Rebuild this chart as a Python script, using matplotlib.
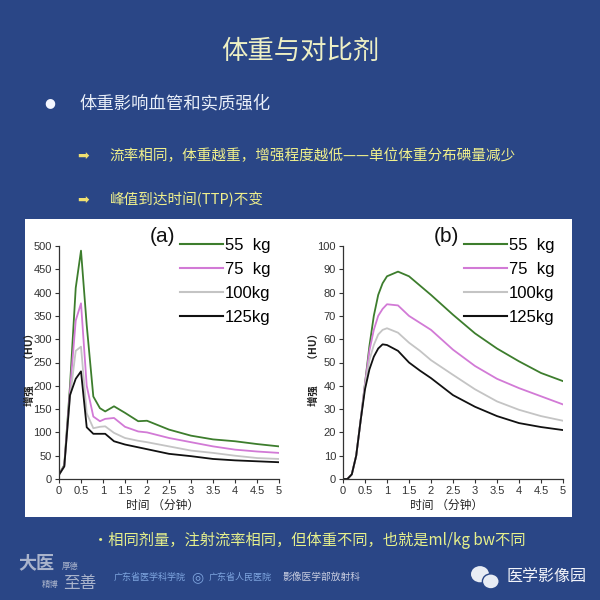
import matplotlib
matplotlib.use("Agg")
import matplotlib.pyplot as plt
from matplotlib.patches import Rectangle, Ellipse

plt.rcParams['font.family'] = ['Noto Sans CJK SC', 'DejaVu Sans']

# ---- data ----
labels = ["55  kg", "75  kg", "100kg", "125kg"]
colors = ["#3d7d2d", "#d27ad6", "#c4c4c4", "#111111"]

# (a) vessel enhancement
ta = [0, 0.12, 0.25, 0.38, 0.5, 0.63, 0.78, 0.93, 1.05, 1.25, 1.5, 1.8, 2.0, 2.5, 3.0, 3.5, 4.0, 4.5, 5.0]
a55 = [10, 30, 200, 410, 490, 330, 177, 152, 145, 156, 142, 124, 125, 106, 93, 85, 81, 75, 70]
a75 = [10, 28, 190, 340, 377, 200, 134, 124, 129, 131, 112, 102, 100, 88, 79, 70, 63, 59, 56]
a100 = [9, 26, 175, 275, 284, 141, 109, 112, 113, 99, 88, 82, 79, 70, 61, 56, 50, 45, 43]
a125 = [9, 27, 180, 215, 231, 111, 97, 97, 97, 81, 74, 68, 64, 54, 49, 43, 40, 38, 36]

# (b) parenchymal enhancement
tb = [0, 0.1, 0.2, 0.3, 0.4, 0.5, 0.6, 0.7, 0.8, 0.9, 1.0, 1.25, 1.5, 1.75, 2.0, 2.5, 3.0, 3.5, 4.0, 4.5, 5.0]
b55 = [0, 0, 2, 10, 25, 41, 57, 70, 79, 84, 87, 89, 87, 83, 79, 70.5, 62.5, 56, 50.5, 45.5, 42]
b75 = [0, 0, 2, 10, 25, 41, 55, 64, 70, 73, 75, 74.5, 70, 67, 64, 55.5, 48.5, 43, 39, 35.5, 32]
b100 = [0, 0, 2, 10, 25, 40, 51, 57.5, 62, 64, 64.7, 62.8, 58.5, 55, 51, 44.7, 38.5, 33.3, 29.7, 27, 25]
b125 = [0, 0, 2, 10, 25, 38.5, 47, 52.5, 56, 57.8, 57.5, 55, 50, 46.5, 43.3, 36, 31, 27, 24, 22.3, 21]

xticks = [0, 0.5, 1, 1.5, 2, 2.5, 3, 3.5, 4, 4.5, 5]

bg = "#2a4686"
fig = plt.figure(figsize=(6, 6), dpi=100, facecolor=bg)

# slide text
fig.text(0.5, 0.915, "体重与对比剂", ha="center", va="center", fontsize=19, color="#eef0c4")
fig.text(0.083, 0.829, "●", ha="center", va="center", fontsize=9, color="#f4f6ff",
         family=["DejaVu Sans"])
fig.text(0.133, 0.828, "体重影响血管和实质强化", ha="left", va="center", fontsize=12.5, color="#e8eef8")
fig.text(0.128, 0.74, "➡", ha="left", va="center", fontsize=10, color="#f0e070",
         family=["DejaVu Sans"])
fig.text(0.183, 0.74, "流率相同，体重越重，增强程度越低——单位体重分布碘量减少",
         ha="left", va="center", fontsize=10.5, color="#f0f08c")
fig.text(0.128, 0.667, "➡", ha="left", va="center", fontsize=10, color="#f0e070",
         family=["DejaVu Sans"])
fig.text(0.183, 0.667, "峰值到达时间(TTP)不变", ha="left", va="center", fontsize=10.5, color="#f0f08c")

# white panel behind the two charts
fig.patches.append(Rectangle((25 / 600, 83 / 600), 547 / 600, 298 / 600,
                             transform=fig.transFigure, facecolor="white",
                             edgecolor="none", zorder=-5))

tick_font = ["Liberation Sans Narrow", "Liberation Sans", "DejaVu Sans"]


def draw(ax, t, series, ymax, ystep, tag):
    ax.set_zorder(2)
    for y, c, lab in zip(series, colors, labels):
        ax.plot(t, y, color=c, lw=1.3, label=lab)
    ax.set_xlim(0, 5)
    ax.set_ylim(0, ymax)
    ax.set_xticks(xticks)
    ax.set_xticklabels([f"{v:g}" for v in xticks], family=tick_font, fontsize=8)
    yt = list(range(0, ymax + 1, ystep))
    ax.set_yticks(yt)
    ax.set_yticklabels([str(v) for v in yt], family=tick_font, fontsize=8)
    ax.tick_params(length=3, width=0.8, colors="#333333", pad=2)
    for s in ["top", "right"]:
        ax.spines[s].set_visible(False)
    for s in ["left", "bottom"]:
        ax.spines[s].set_color("#333333")
        ax.spines[s].set_linewidth(0.9)
    ax.set_facecolor("white")
    ax.text(0.47, 1.04, tag, transform=ax.transAxes, ha="center", va="center",
            fontsize=15, family=tick_font, color="#111111")
    ax.text(-0.135, 0.48, "增强　　（HU）", transform=ax.transAxes, rotation=90,
            ha="center", va="center", fontsize=7.5, color="#222222", fontweight="bold")
    ax.text(0.47, -0.115, "时间 （分钟）", transform=ax.transAxes,
            ha="center", va="center", fontsize=8.5, color="#222222")
    leg = ax.legend(loc="upper right", bbox_to_anchor=(1.03, 1.1), frameon=False,
                    handlelength=2.6, handletextpad=0.1, labelspacing=0.55,
                    prop={"family": tick_font, "size": 12})
    for line in leg.get_lines():
        line.set_linewidth(1.5)


ax1 = fig.add_axes([59 / 600, 121 / 600, 220 / 600, 233 / 600])
draw(ax1, ta, [a55, a75, a100, a125], 500, 50, "(a)")

ax2 = fig.add_axes([343 / 600, 121 / 600, 220 / 600, 233 / 600])
draw(ax2, tb, [b55, b75, b100, b125], 100, 10, "(b)")

# bottom note
fig.text(0.155, 0.1, "•相同剂量，注射流率相同，但体重不同，也就是ml/kg bw不同",
         ha="left", va="center", fontsize=11, color="#e6f08c")

# footer marks
fig.text(0.03, 0.062, "大医", ha="left", va="center", fontsize=13, color="#aab4cc",
         fontweight="bold")
fig.text(0.103, 0.056, "厚德", ha="left", va="center", fontsize=6, color="#aab4cc")
fig.text(0.07, 0.025, "精博", ha="left", va="center", fontsize=6, color="#aab4cc")
fig.text(0.105, 0.028, "至善", ha="left", va="center", fontsize=12, color="#aab4cc")
fig.text(0.19, 0.038, "广东省医学科学院", ha="left", va="center", fontsize=6.5, color="#7fa6e0")
fig.text(0.318, 0.038, "◎", ha="left", va="center", fontsize=10, color="#7fa6e0",
         family=["DejaVu Sans"])
fig.text(0.348, 0.038, "广东省人民医院", ha="left", va="center", fontsize=6.5, color="#7fa6e0")
fig.text(0.47, 0.038, "影像医学部放射科", ha="left", va="center", fontsize=7, color="#c8cde0")
fig.patches.append(Ellipse((0.8, 0.043), 0.03, 0.027, transform=fig.transFigure,
                           facecolor="#e8ecf4", edgecolor="none"))
fig.patches.append(Ellipse((0.818, 0.031), 0.028, 0.025, transform=fig.transFigure,
                           facecolor="#e8ecf4", edgecolor=bg, lw=1))
fig.text(0.845, 0.04, "医学影像园", ha="left", va="center", fontsize=11.5, color="#f2f4fa")

fig.savefig("out.png", dpi=100, facecolor=bg)
